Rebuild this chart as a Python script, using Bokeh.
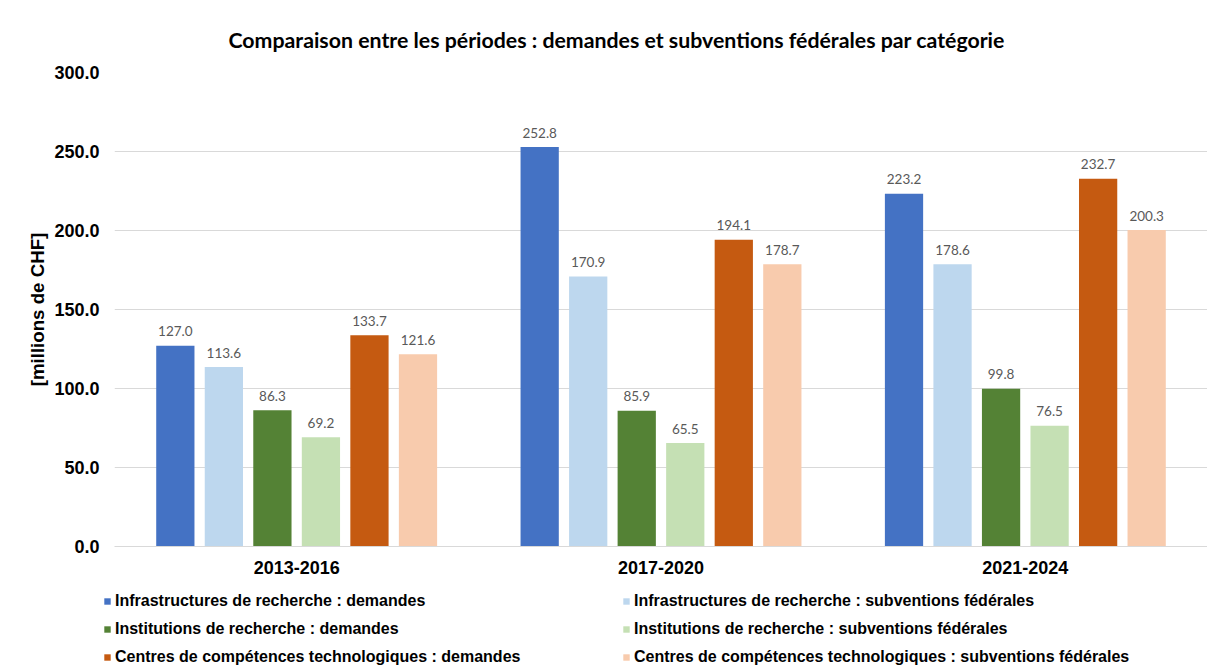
from bokeh.plotting import figure
from bokeh.layouts import column
from bokeh.models import (FactorRange, ColumnDataSource, LabelSet, Legend, LegendItem,
                          FixedTicker, NumeralTickFormatter, Range1d)
from bokeh.core.properties import value
from bokeh.transform import dodge
from bokeh.embed import file_html
from bokeh.resources import INLINE

# ---- data ----
periods = ["2013-2016", "2017-2020", "2021-2024"]
series_names = [
    "Infrastructures de recherche : demandes",
    "Infrastructures de recherche : subventions fédérales",
    "Institutions de recherche : demandes",
    "Institutions de recherche : subventions fédérales",
    "Centres de compétences technologiques : demandes",
    "Centres de compétences technologiques : subventions fédérales",
]
infra_dem = [127.0, 252.8, 223.2]
infra_sub = [113.6, 170.9, 178.6]
inst_dem = [86.3, 85.9, 99.8]
inst_sub = [69.2, 65.5, 76.5]
ctech_dem = [133.7, 194.1, 232.7]
ctech_sub = [121.6, 178.7, 200.3]
y_ticks = [0, 50, 100, 150, 200, 250, 300]

series_values = [infra_dem, infra_sub, inst_dem, inst_sub, ctech_dem, ctech_sub]
colors = ["#4472C4", "#BDD7EE", "#548235", "#C5E0B4", "#C55A11", "#F8CBAD"]

# ---- main figure ----
p = figure(x_range=FactorRange(*periods), y_range=Range1d(0, 300),
           width=1207, height=585, output_backend="svg", toolbar_location=None,
           min_border_left=114, min_border_right=0, min_border_top=72, min_border_bottom=39)
p.outline_line_color = None
p.background_fill_color = "white"
p.border_fill_color = "white"

p.title.text = "Comparaison entre les périodes : demandes et subventions fédérales par catégorie"
p.title.align = "left"
p.title.offset = 114
p.title.standoff = 40
p.title.text_font = "Lato"
p.title.text_font_style = "bold"
p.title.text_font_size = "21.3px"
p.title.text_color = "#000000"

# axes
p.yaxis.ticker = FixedTicker(ticks=y_ticks)
p.yaxis.formatter = NumeralTickFormatter(format="0.0")
p.yaxis.axis_line_color = None
p.yaxis.major_tick_line_color = None
p.yaxis.minor_tick_line_color = None
p.yaxis.major_tick_out = 0
p.yaxis.major_tick_in = 0
p.yaxis.major_label_standoff = 15
p.yaxis.major_label_text_font = "Liberation Sans"
p.yaxis.major_label_text_font_style = "bold"
p.yaxis.major_label_text_font_size = "18px"
p.yaxis.major_label_text_color = "#000000"
p.yaxis.axis_label = "[millions de CHF]"
p.yaxis.axis_label_text_font = "Liberation Sans"
p.yaxis.axis_label_text_font_style = "bold"
p.yaxis.axis_label_text_font_size = "18.7px"
p.yaxis.axis_label_text_color = "#000000"
p.yaxis.axis_label_standoff = 3

p.xaxis.axis_line_color = "#d9d9d9"
p.xaxis.axis_line_width = 1
p.xaxis.major_tick_line_color = None
p.xaxis.minor_tick_line_color = None
p.xaxis.major_tick_out = 0
p.xaxis.major_tick_in = 0
p.xaxis.major_label_standoff = 14
p.xaxis.major_label_text_font = "Liberation Sans"
p.xaxis.major_label_text_font_style = "bold"
p.xaxis.major_label_text_font_size = "18px"
p.xaxis.major_label_text_color = "#000000"

p.xgrid.grid_line_color = None
p.ygrid.grid_line_color = "#d9d9d9"
p.ygrid.grid_line_width = 1

# ---- legend strip (separate figure so the legend is not clipped by the frame) ----
pl = figure(width=1207, height=84, output_backend="svg", toolbar_location=None,
            x_range=FactorRange(*periods), y_range=Range1d(-1000, -990),
            x_axis_location=None, y_axis_location=None,
            min_border_left=0, min_border_right=0, min_border_top=0, min_border_bottom=0)
pl.frame_align = False
pl.outline_line_color = None
pl.xgrid.grid_line_color = None
pl.ygrid.grid_line_color = None
pl.background_fill_color = "white"
pl.border_fill_color = "white"

# bars + labels (the legend strip reuses the same sources through hidden proxy renderers)
step = 0.1332
bar_w = 0.105
leg_renderers = []
for i, (vals, col) in enumerate(zip(series_values, colors)):
    off = (i - 2.5) * step
    src = ColumnDataSource(dict(period=periods, v=vals, lbl=[f"{v:.1f}" for v in vals]))
    p.vbar(x=dodge("period", off, range=p.x_range), top="v", width=bar_w,
           source=src, fill_color=col, line_color=None)
    lab = LabelSet(x=dodge("period", off, range=p.x_range), y="v", text="lbl", source=src,
                   text_align="center", text_baseline="alphabetic", y_offset=9.5,
                   text_font=value("Lato"), text_font_size=value("13.5px"),
                   text_color="#595959")
    p.add_layout(lab)
    proxy = pl.vbar(x=dodge("period", off, range=pl.x_range), top="v", bottom="v",
                    width=0, source=src, fill_color=col, line_color=None)
    proxy.visible = False
    leg_renderers.append(proxy)

order = [0, 2, 4, 1, 3, 5]
items = [LegendItem(label=series_names[k], renderers=[leg_renderers[k]]) for k in order]
legend = Legend(items=items, location=(103, 2), orientation="vertical", nrows=3,
                glyph_width=8, glyph_height=8, label_standoff=4, label_width=499,
                label_height=20, spacing=8, padding=0, margin=0,
                border_line_color=None, background_fill_alpha=0,
                label_text_font="Liberation Sans", label_text_font_style="bold",
                label_text_font_size="16px", label_text_color="#000000")
pl.add_layout(legend)

layout = column(p, pl, spacing=0)
open("out.html", "w").write(file_html(layout, INLINE))
